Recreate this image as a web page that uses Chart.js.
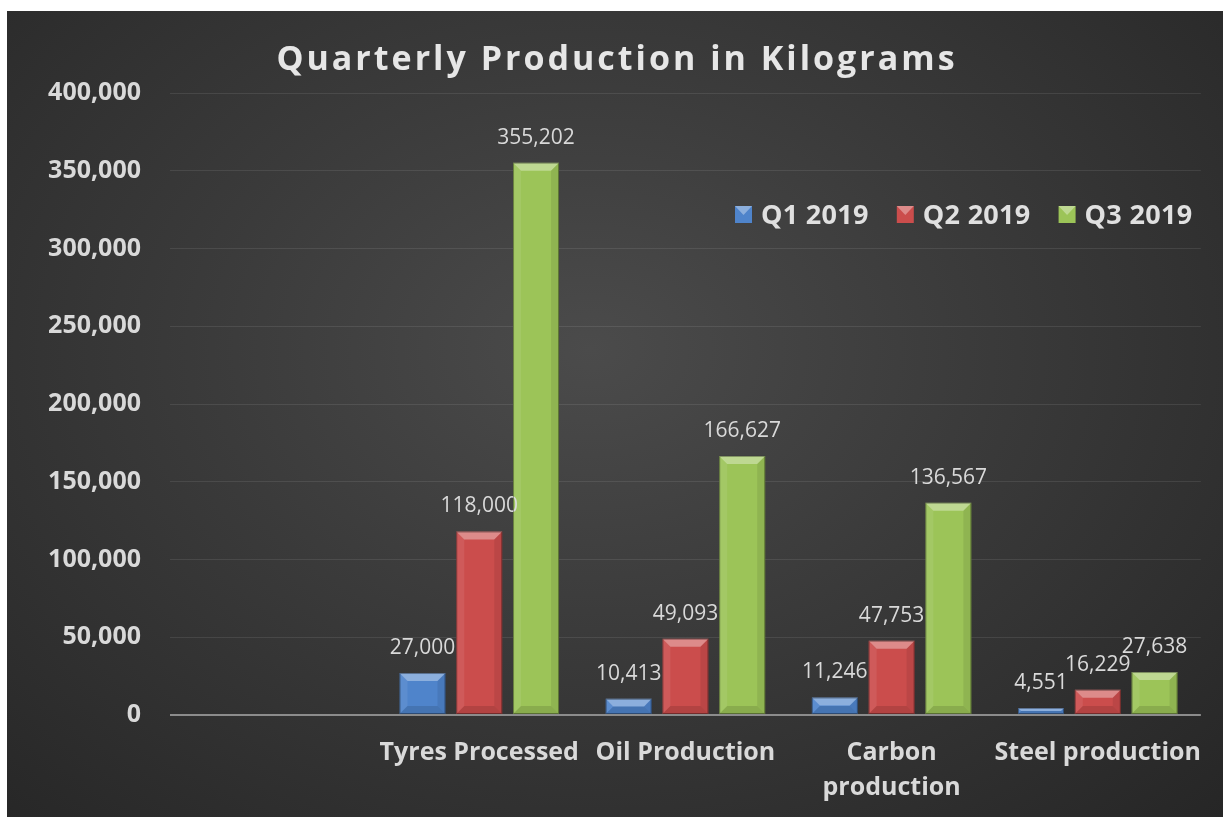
<!DOCTYPE html>
<html>
<head>
<meta charset="utf-8">
<script src="https://cdn.jsdelivr.net/npm/chart.js@4.4.1/dist/chart.umd.min.js"></script>
<style>
  html, body { margin: 0; padding: 0; background: #ffffff; }
  #wrap {
    position: absolute; left: 7px; top: 11px; width: 1216px; height: 806px;
    background: radial-gradient(ellipse at 48% 42%, #4b4b4b 0%, #3a3a3a 45%, #262626 100%);
  }
</style>
</head>
<body>
<div id="wrap"><canvas id="grafico"></canvas></div>
<script>
// dados do grafico
const categorias = ['', 'Tyres Processed', 'Oil Production', ['Carbon', 'production'], 'Steel production'];
const series = ['Q1 2019', 'Q2 2019', 'Q3 2019'];
const q1 = [null, 27000, 10413, 11246, 4551];
const q2 = [null, 118000, 49093, 47753, 16229];
const q3 = [null, 355202, 166627, 136567, 27638];
const ticksY = [0, 50000, 100000, 150000, 200000, 250000, 300000, 350000, 400000];
const cores = ['#4f84cb', '#cb4d4c', '#9cc458'];

const FONTE = '"Open Sans", Lato, sans-serif';

function fmt(v) {
    return v.toLocaleString('en-US');
}

// bisel nas barras + rotulos de dados
const biselPlugin = {
    id: 'bisel',
    afterDatasetsDraw(chart) {
        const ctx = chart.ctx;
        chart.data.datasets.forEach((ds, i) => {
            const meta = chart.getDatasetMeta(i);
            meta.data.forEach((bar, j) => {
                if (ds.data[j] == null) return;
                const x0 = bar.x - bar.width / 2, x1 = bar.x + bar.width / 2;
                const y0 = bar.y, y1 = bar.base;
                const b = Math.min(8, (y1 - y0) / 2);
                ctx.save();
                // topo claro
                ctx.fillStyle = 'rgba(255,255,255,0.35)';
                ctx.beginPath();
                ctx.moveTo(x0, y0); ctx.lineTo(x1, y0); ctx.lineTo(x1 - b, y0 + b); ctx.lineTo(x0 + b, y0 + b);
                ctx.fill();
                // lado esquerdo
                ctx.fillStyle = 'rgba(255,255,255,0.08)';
                ctx.beginPath();
                ctx.moveTo(x0, y0); ctx.lineTo(x0 + b, y0 + b); ctx.lineTo(x0 + b, y1 - b); ctx.lineTo(x0, y1);
                ctx.fill();
                // lado direito
                ctx.fillStyle = 'rgba(0,0,0,0.08)';
                ctx.beginPath();
                ctx.moveTo(x1, y0); ctx.lineTo(x1 - b, y0 + b); ctx.lineTo(x1 - b, y1 - b); ctx.lineTo(x1, y1);
                ctx.fill();
                // base
                ctx.fillStyle = 'rgba(0,0,0,0.12)';
                ctx.beginPath();
                ctx.moveTo(x0, y1); ctx.lineTo(x1, y1); ctx.lineTo(x1 - b, y1 - b); ctx.lineTo(x0 + b, y1 - b);
                ctx.fill();
                ctx.strokeStyle = 'rgba(0,0,0,0.35)';
                ctx.lineWidth = 1;
                ctx.strokeRect(x0 + 0.5, y0 + 0.5, bar.width - 1, y1 - y0 - 1);
                ctx.restore();

                // rotulo
                ctx.save();
                ctx.fillStyle = '#d9d9d9';
                ctx.font = '21px ' + FONTE;
                ctx.textAlign = 'center';
                ctx.textBaseline = 'middle';
                ctx.fillText(fmt(ds.data[j]), bar.x, y0 - 25);
                ctx.restore();
            });
        });
    },
    afterDraw(chart) {
        const ctx = chart.ctx;
        // titulo
        ctx.save();
        ctx.fillStyle = '#e6e6e6';
        ctx.font = 'bold 34px ' + FONTE;
        ctx.letterSpacing = '3px';
        ctx.textAlign = 'center';
        ctx.textBaseline = 'middle';
        ctx.fillText('Quarterly Production in Kilograms', 610, 49);
        ctx.restore();

        // legenda
        ctx.save();
        ctx.font = 'bold 27px ' + FONTE;
        ctx.letterSpacing = '0.3px';
        ctx.textBaseline = 'middle';
        let x = 728;
        const y = 204;
        chart.data.datasets.forEach((ds) => {
            ctx.fillStyle = ds.backgroundColor;
            ctx.fillRect(x, y - 9, 17, 17);
            ctx.fillStyle = 'rgba(255,255,255,0.35)';
            ctx.beginPath();
            ctx.moveTo(x, y - 9); ctx.lineTo(x + 17, y - 9); ctx.lineTo(x + 8.5, y); ctx.fill();
            ctx.fillStyle = '#e0e0e0';
            ctx.fillText(ds.label, x + 26, y + 1);
            x += 26 + ctx.measureText(ds.label).width + 28;
        });
        ctx.restore();
    }
};

function montarGrafico() {
    const ctx = document.getElementById('grafico').getContext('2d');
    const dados = [q1, q2, q3];

    new Chart(ctx, {
        type: 'bar',
        data: {
            labels: categorias,
            datasets: series.map((nome, i) => ({
                label: nome,
                data: dados[i],
                backgroundColor: cores[i],
                borderWidth: 0,
                categoryPercentage: 0.826,
                barPercentage: 0.81
            }))
        },
        options: {
            responsive: true,
            maintainAspectRatio: false,
            animation: false,
            layout: { padding: { top: 82, right: 20, left: 0, bottom: 0 } },
            scales: {
                y: {
                    min: 0,
                    max: 400000,
                    afterFit: (s) => { s.width = 163; },
                    afterBuildTicks: (s) => { s.ticks = ticksY.map(v => ({ value: v })); },
                    border: { display: false },
                    grid: {
                        drawTicks: false,
                        color: (c) => c.tick && c.tick.value === 0 ? '#8c8c8c' : 'rgba(255,255,255,0.09)',
                        lineWidth: (c) => c.tick && c.tick.value === 0 ? 2 : 1
                    },
                    ticks: {
                        padding: 29,
                        color: '#d9d9d9',
                        font: { family: FONTE, size: 25, weight: 'bold' },
                        callback: (v) => fmt(v)
                    }
                },
                x: {
                    afterFit: (s) => { s.height = 102; },
                    border: { display: false },
                    grid: { display: false, drawTicks: false },
                    ticks: {
                        padding: 20,
                        color: '#d9d9d9',
                        maxRotation: 0,
                        autoSkip: false,
                        font: { family: FONTE, size: 25, weight: 'bold', lineHeight: 1.4 }
                    }
                }
            },
            plugins: {
                legend: { display: false },
                tooltip: { enabled: false }
            }
        },
        plugins: [biselPlugin]
    });
}

document.addEventListener('DOMContentLoaded', montarGrafico);
</script>
</body>
</html>
